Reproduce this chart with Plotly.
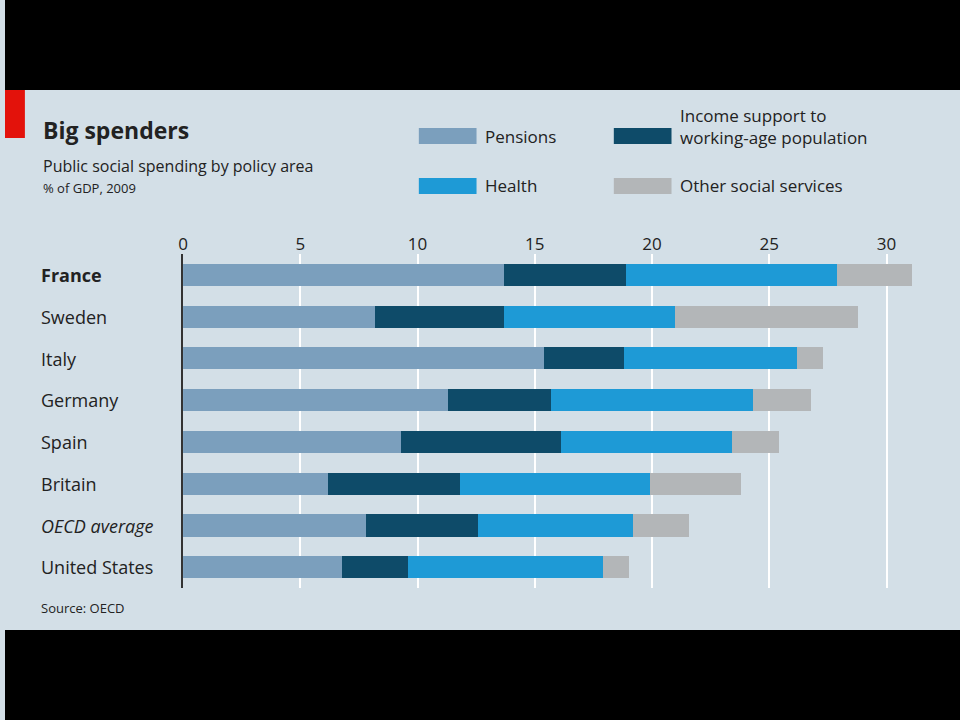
import plotly.graph_objects as go

countries = ["France", "Sweden", "Italy", "Germany", "Spain", "Britain", "OECD average", "United States"]
pensions = [13.7, 8.2, 15.4, 11.3, 9.3, 6.2, 7.8, 6.8]
income = [5.2, 5.5, 3.4, 4.4, 6.8, 5.6, 4.8, 2.8]
health = [9.0, 7.3, 7.4, 8.6, 7.3, 8.1, 6.6, 8.3]
other = [3.2, 7.8, 1.1, 2.5, 2.0, 3.9, 2.4, 1.1]

series = [
    ("Pensions", pensions, "#7b9fbd"),
    ("Income support to working-age population", income, "#0e4b69"),
    ("Health", health, "#1e9ad6"),
    ("Other social services", other, "#b3b6b8"),
]

FONT = "Open Sans"
fig = go.Figure()
for name, vals, col in series:
    fig.add_trace(go.Bar(y=countries, x=vals, name=name, orientation="h",
                         marker=dict(color=col, line=dict(width=0)), width=0.53))

fig.update_layout(
    width=960, height=720, barmode="stack", showlegend=False,
    margin=dict(l=0, r=0, t=0, b=0),
    paper_bgcolor="#d3dfe7", plot_bgcolor="rgba(0,0,0,0)",
    font=dict(family=FONT, color="#222"),
    bargap=0,
    xaxis=dict(domain=[179/960, 921.5/960], range=[0, 31.5], side="top",
               tickvals=[0, 5, 10, 15, 20, 25, 30], showgrid=True, gridcolor="white",
               gridwidth=2, zeroline=False, tickfont=dict(size=17, color="#222"),
               ticks="", layer="below traces"),
    yaxis=dict(domain=[0.183, 0.647], range=[7.5, -0.5], showticklabels=False,
               showgrid=False, zeroline=False, showline=True, linecolor="#333", linewidth=2),
)

# black bands and red tag
fig.add_shape(type="rect", xref="paper", yref="paper", x0=0, x1=1, y0=1-90/720, y1=1,
              fillcolor="black", line_width=0)
fig.add_shape(type="rect", xref="paper", yref="paper", x0=0, x1=1, y0=0, y1=1-630/720,
              fillcolor="black", line_width=0)
fig.add_shape(type="rect", xref="paper", yref="paper", x0=0, x1=20/960, y0=1-138/720, y1=1-90/720,
              fillcolor="#e3120b", line_width=0)

def txt(x, y, s, size, **kw):
    fig.add_annotation(xref="paper", yref="paper", x=x/960, y=1-y/720, text=s, showarrow=False,
                       xanchor="left", yanchor="middle", font=dict(size=size, family=FONT, color="#222"),
                       align="left", **kw)

txt(36, 130, "<b>Big spenders</b>", 23)
txt(36, 166, "Public social spending by policy area", 16)
txt(36, 188, "% of GDP, 2009", 13)
txt(34, 608, "Source: OECD", 13)

for i, c in enumerate(countries):
    s = c
    if c == "France":
        s = "<b>France</b>"
    elif c == "OECD average":
        s = "<i>OECD average</i>"
    fig.add_annotation(xref="paper", yref="y", x=34/960, y=c, text=s, showarrow=False,
                       xanchor="left", font=dict(size=18, family=FONT, color="#222"))

# legend
leg = [(416, 136, series[0]), (612, 136, series[1]), (416, 186, series[2]), (612, 186, series[3])]
for x, y, (name, vals, col) in leg:
    fig.add_shape(type="rect", xref="paper", yref="paper", x0=x/960, x1=(x+58)/960,
                  y0=1-(y+8)/720, y1=1-(y-8)/720, fillcolor=col, line_width=0)
    label = "Income support to<br>working-age population" if name.startswith("Income") else name
    txt(x + 65, y - (10 if name.startswith("Income") else 0), label, 17)

fig.write_html("out.html", config={"displayModeBar": False},
               post_script="document.documentElement.style.margin='0';document.body.style.margin='0';"
                           "document.body.style.padding='0';document.body.style.overflow='hidden';")
